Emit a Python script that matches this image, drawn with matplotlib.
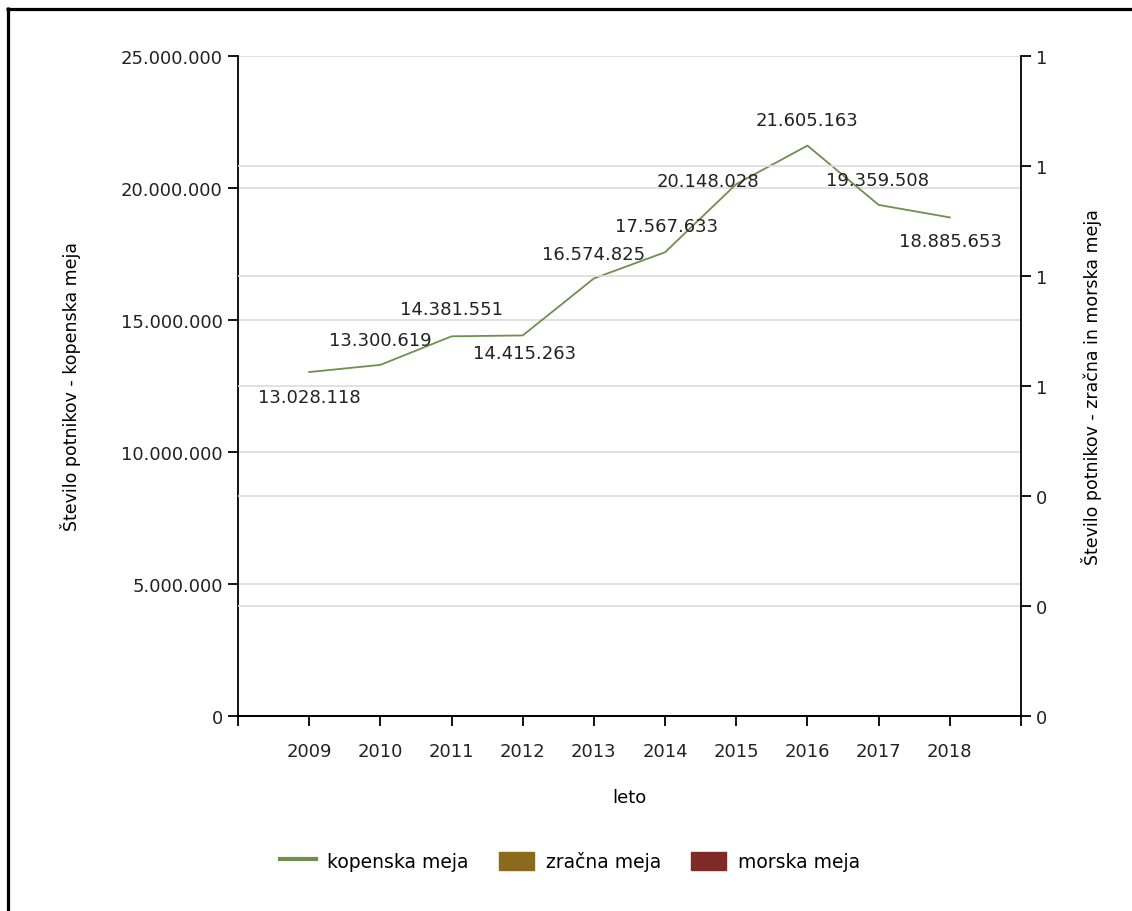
import matplotlib.pyplot as plt
from matplotlib.lines import Line2D
from matplotlib.patches import Patch
from matplotlib.ticker import FixedLocator, FuncFormatter

years = [2009, 2010, 2011, 2012, 2013, 2014, 2015, 2016, 2017, 2018]
kopenska = [13028118, 13300619, 14381551, 14415263, 16574825,
            17567633, 20148028, 21605163, 19359508, 18885653]
series_names = ['kopenska meja', 'zračna meja', 'morska meja']

# label offsets (pixels) for the data labels
label_offsets = [(0, -25), (0, 25), (0, 27), (2, -18), (0, 24),
                 (1, 26), (-28, 3), (0, 26), (-1, 25), (1, -24)]

green = '#6f8f4f'
brown = '#8b6a1e'
darkred = '#7f2a26'
grid_c = '#dcdcdc'

plt.rcParams['font.family'] = 'DejaVu Sans'
fig = plt.figure(figsize=(11.32, 9.12), dpi=100)

ax = fig.add_axes([238 / 1132, 1 - 717 / 912, (1021 - 238) / 1132, (717 - 57) / 912])
ax2 = ax.twinx()

ax.set_xlim(2008, 2019)
ax.set_ylim(0, 25000000)
ax2.set_ylim(0, 1.2)

left_ticks = [0, 5000000, 10000000, 15000000, 20000000, 25000000]
right_ticks = [0, 0.2, 0.4, 0.6, 0.8, 1.0, 1.2]
ax.yaxis.set_major_locator(FixedLocator(left_ticks))
ax.yaxis.set_major_formatter(FuncFormatter(lambda v, p: f'{int(v):,}'.replace(',', '.')))
ax2.yaxis.set_major_locator(FixedLocator(right_ticks))
ax2.yaxis.set_major_formatter(FuncFormatter(lambda v, p: f'{int(v + 0.5)}'))

# gridlines for both axes
for t in left_ticks[1:]:
    ax.axhline(t, color=grid_c, lw=1.2, zorder=0)
for t in right_ticks[1:-1]:
    ax2.axhline(t, color=grid_c, lw=1.2, zorder=0)

xt = [2008] + years + [2019]
ax.set_xticks(xt)
ax.set_xticklabels([''] + [str(y) for y in years] + [''])

ax.plot(years, kopenska, color=green, lw=1.3, zorder=3)
for x, v, (dx, dy) in zip(years, kopenska, label_offsets):
    ax.annotate(f'{v:,}'.replace(',', '.'), (x, v), xytext=(dx, dy),
                textcoords='offset pixels', ha='center', va='center',
                fontsize=13, color='#222222', zorder=4)

for a in (ax, ax2):
    a.spines['top'].set_visible(False)
    for s in ('left', 'right', 'bottom'):
        a.spines[s].set_linewidth(1.3)
        a.spines[s].set_color('black')
    a.tick_params(length=7, width=1.3, labelsize=13, colors='black', labelcolor='#222222', pad=4)
ax2.spines['left'].set_visible(False)
ax.spines['right'].set_visible(False)
ax.tick_params(axis='x', pad=12)

ax.set_xlabel('leto', fontsize=13, labelpad=20)
ax.set_ylabel('Število potnikov - kopenska meja', fontsize=12.5)
ax.yaxis.set_label_coords(-0.2, 0.5)
ax2.set_ylabel('Število potnikov - zračna in morska meja', fontsize=12.5, rotation=90)
ax2.yaxis.set_label_coords(1.076, 0.5)

handles = [Line2D([0], [0], color=green, lw=3),
           Patch(facecolor=brown, edgecolor=brown),
           Patch(facecolor=darkred, edgecolor=darkred)]
fig.legend(handles, series_names, loc='center', bbox_to_anchor=(570 / 1132, 1 - 862 / 912),
           ncol=3, frameon=False, fontsize=13.5, handlelength=1.9, handleheight=1.1,
           columnspacing=1.6, handletextpad=0.6)

# black frame lines (top and left only)
fig.add_artist(Line2D([6 / 1132, 1], [1 - 9.5 / 912, 1 - 9.5 / 912], color='black', lw=2.3,
                      solid_capstyle='butt', transform=fig.transFigure))
fig.add_artist(Line2D([7.5 / 1132, 7.5 / 1132], [0, 1 - 8.3 / 912], color='black', lw=2.3,
                      solid_capstyle='butt', transform=fig.transFigure))

plt.savefig('out.png', dpi=100)
